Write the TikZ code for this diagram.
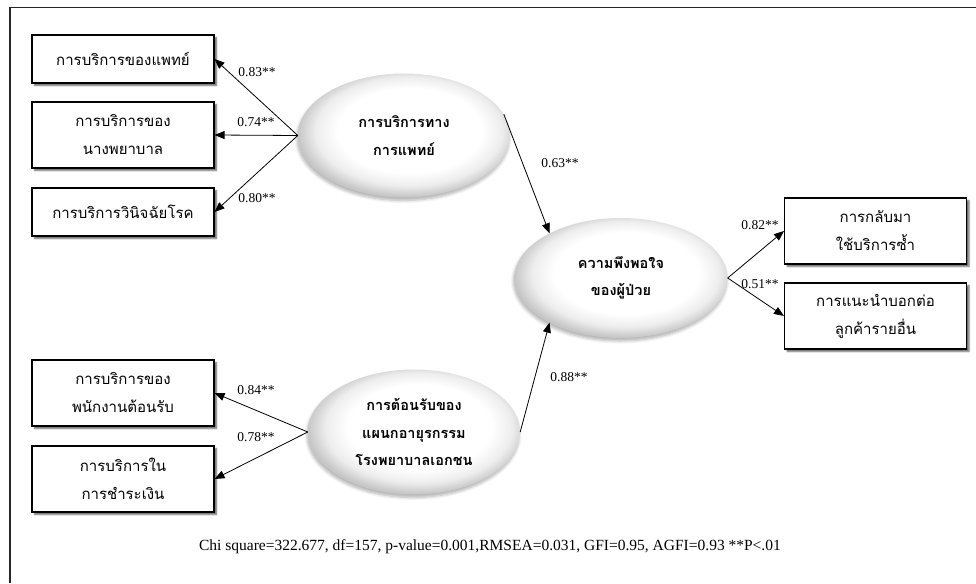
\documentclass[tikz,border=0pt]{standalone}
\usepackage{fontspec}
\setmainfont{Liberation Serif}
\newfontfamily\thaifont[Script=Thai]{Loma}
\usetikzlibrary{arrows.meta,shapes.geometric,shadows.blur}
\pgfdeclareradialshading{latshade}{\pgfpoint{2bp}{3bp}}{color(0bp)=(white); color(17bp)=(white); color(22bp)=(black!7); color(26bp)=(black!22); color(50bp)=(black!22)}
\tikzset{
  obs/.style={draw=black, line width=1.1pt, fill=white, minimum width=182pt,
    align=center, inner sep=0pt, font=\thaifont\fontsize{15}{28}\selectfont,
    blur shadow={shadow xshift=2.5pt, shadow yshift=-2.5pt, shadow blur steps=4, shadow blur radius=1.5pt, shadow opacity=60}},
  lat/.style={ellipse, minimum width=212pt, minimum height=124pt, inner sep=0pt,
    shading=latshade, align=center,
    font=\thaifont\bfseries\fontsize{14.5}{27.5}\selectfont,
    blur shadow={shadow xshift=-1pt, shadow yshift=-3pt, shadow blur steps=6, shadow blur radius=3pt, shadow opacity=30}},
  arr/.style={-{Triangle[length=10pt,width=8pt]}, line width=0.8pt},
  lbl/.style={font=\fontsize{13.5}{15}\selectfont, inner sep=0pt},
  frame/.style={line width=1.4pt, draw=black!85}
}
\begin{document}
\begin{tikzpicture}[x=1pt,y=-1pt]
\useasboundingbox (0,0) rectangle (976,583);
% frame (top and left edges visible)
\coordinate (fbl) at (10,583);
\coordinate (ftl) at (10,7.5);
\coordinate (ftr) at (976,7.5);
\draw[frame] (fbl) -- (ftl) -- (ftr);
% observed variables
\node[obs, minimum height=48pt] (b1) at (123,59) {การบริการของแพทย์};
\node[obs, minimum height=66pt] (b2) at (123,135) {การบริการของ\\นางพยาบาล};
\node[obs, minimum height=48pt] (b3) at (123,212) {การบริการวินิจฉัยโรค};
\node[obs, minimum height=66pt] (b4) at (123,393) {การบริการของ\\พนักงานต้อนรับ};
\node[obs, minimum height=66pt] (b5) at (123,479) {การบริการใน\\การชำระเงิน};
\node[obs, minimum height=66pt] (b6) at (875.5,231) {การกลับมา\\ใช้บริการซ้ำ};
\node[obs, minimum height=66pt] (b7) at (875.5,316) {การแนะนำบอกต่อ\\ลูกค้ารายอื่น};
% latent variables
\node[lat, shade] (e1) at (404,135.5) {การบริการทาง\\การแพทย์};
\node[lat, shade, minimum height=120pt, minimum width=213pt] (e2) at (621,278) {ความพึงพอใจ\\ของผู้ป่วย};
\node[lat, shade, minimum height=125pt] (e3) at (414,432) {การต้อนรับของ\\แผนกอายุรกรรม\\โรงพยาบาลเอกชน};
% connectors
\draw[arr] (e1.west) -- (b1.east);
\draw[arr] (e1.west) -- (b2.east);
\draw[arr] (e1.west) -- (b3.east);
\draw[arr] (e3.west) -- (b4.east);
\draw[arr] (e3.west) -- (b5.east);
\draw[arr] (e1.12) -- (e2.148);
\draw[arr] (e3.east) -- (e2.212);
\draw[arr] (e2.east) -- (b6.west);
\draw[arr] (e2.east) -- (b7.west);
% labels
\node[lbl] (l1) at (257,72) {0.83**};
\node[lbl] (l2) at (256,122) {0.74**};
\node[lbl] (l3) at (257,198) {0.80**};
\node[lbl] (l4) at (256,390) {0.84**};
\node[lbl] (l5) at (256,437) {0.78**};
\node[lbl] (l6) at (560,163) {0.63**};
\node[lbl] (l7) at (569,377) {0.88**};
\node[lbl] (l8) at (760,225) {0.82**};
\node[lbl] (l9) at (760,284) {0.51**};
\node[lbl, font=\fontsize{15.5}{18}\selectfont] (ft) at (490,547) {Chi square=322.677, df=157, p-value=0.001,RMSEA=0.031, GFI=0.95, AGFI=0.93 **P<.01};
\end{tikzpicture}
\end{document}
